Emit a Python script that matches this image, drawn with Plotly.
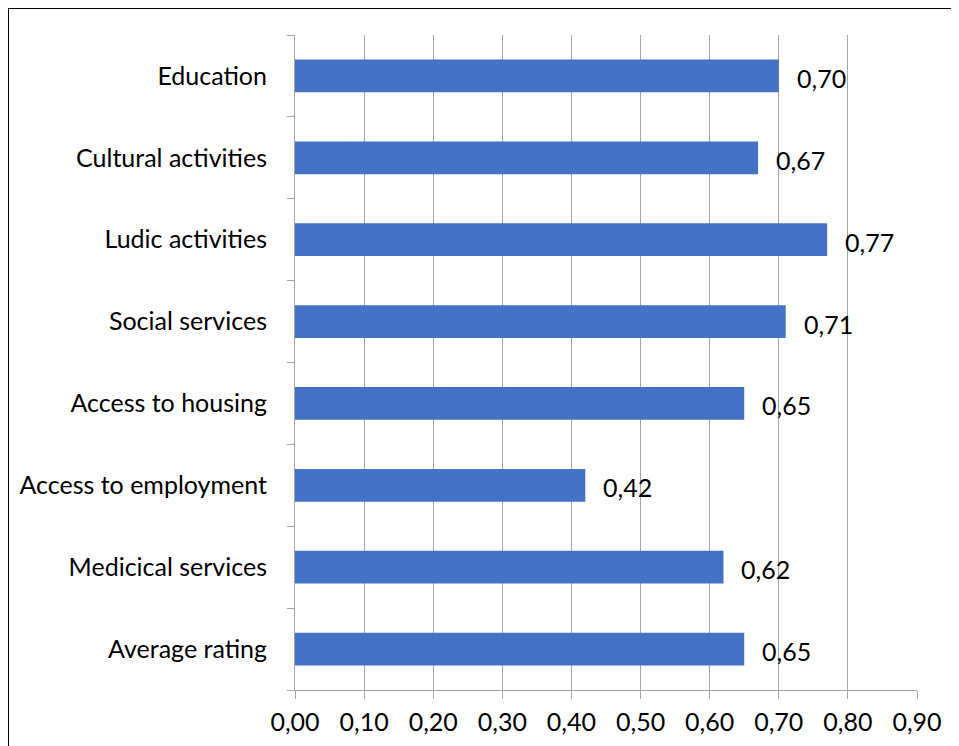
import plotly.graph_objects as go

categories = ["Education", "Cultural activities", "Ludic activities", "Social services",
              "Access to housing", "Access to employment", "Medicical services", "Average rating"]
values = [0.70, 0.67, 0.77, 0.71, 0.65, 0.42, 0.62, 0.65]
x_ticks = [0.0, 0.1, 0.2, 0.3, 0.4, 0.5, 0.6, 0.7, 0.8, 0.9]

FONT = "Lato, Calibri, Carlito, sans-serif"
GRID = "#A6A6A6"
FS = 25

fig = go.Figure()
fig.add_trace(go.Bar(
    y=categories, x=values, orientation="h",
    marker=dict(color="#4472C4", line=dict(width=0)),
))

for c, v in zip(categories, values):
    fig.add_annotation(x=v, y=c, text=f"{v:.2f}".replace(".", ","), showarrow=False,
                       xanchor="left", xshift=16, yshift=-2,
                       font=dict(family=FONT, size=FS, color="black"))

fig.update_layout(
    width=959, height=746,
    margin=dict(l=287, r=50, t=27, b=64),
    paper_bgcolor="white", plot_bgcolor="white",
    separators=",.",
    bargap=0.6,
    showlegend=False,
    font=dict(family=FONT, size=FS, color="black"),
    xaxis=dict(range=[0, 0.9], tickvals=x_ticks, tickformat=".2f",
               showgrid=True, gridcolor=GRID, gridwidth=1,
               showline=True, linecolor=GRID, linewidth=1,
               ticks="outside", ticklen=8, tickcolor=GRID, zeroline=False,
               ticklabelstandoff=2,
               tickfont=dict(family=FONT, size=FS, color="black")),
    yaxis=dict(categoryorder="array", categoryarray=categories[::-1],
               tickson="boundaries", ticks="outside", ticklen=7, tickcolor=GRID,
               showgrid=False, showline=True, linecolor=GRID, linewidth=1,
               ticklabelstandoff=22,
               tickfont=dict(family=FONT, size=FS, color="black")),
)

# outer border (top and left visible)
fig.add_shape(type="rect", xref="paper", yref="paper",
              x0=(8 - 295) / 622, x1=1.5, y0=-0.3, y1=(690 - 8) / 655,
              line=dict(color="black", width=2), fillcolor="rgba(0,0,0,0)", layer="below")

fig.write_html("out.html")
